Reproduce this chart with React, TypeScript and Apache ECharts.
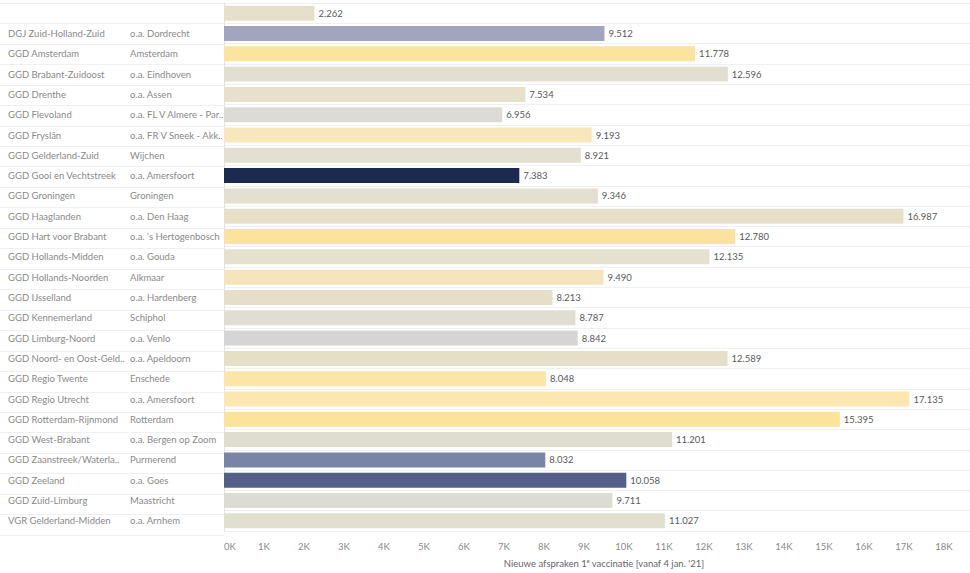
import React, { useEffect, useRef } from "react";
import * as echarts from "echarts";

const regions = [
  "",
  "DGJ Zuid-Holland-Zuid",
  "GGD Amsterdam",
  "GGD Brabant-Zuidoost",
  "GGD Drenthe",
  "GGD Flevoland",
  "GGD Fryslân",
  "GGD Gelderland-Zuid",
  "GGD Gooi en Vechtstreek",
  "GGD Groningen",
  "GGD Haaglanden",
  "GGD Hart voor Brabant",
  "GGD Hollands-Midden",
  "GGD Hollands-Noorden",
  "GGD IJsselland",
  "GGD Kennemerland",
  "GGD Limburg-Noord",
  "GGD Noord- en Oost-Geld..",
  "GGD Regio Twente",
  "GGD Regio Utrecht",
  "GGD Rotterdam-Rijnmond",
  "GGD West-Brabant",
  "GGD Zaanstreek/Waterla..",
  "GGD Zeeland",
  "GGD Zuid-Limburg",
  "VGR Gelderland-Midden",
];

const places = [
  "",
  "o.a. Dordrecht",
  "Amsterdam",
  "o.a. Eindhoven",
  "o.a. Assen",
  "o.a. FL V Almere - Par..",
  "o.a. FR V Sneek - Akk..",
  "Wijchen",
  "o.a. Amersfoort",
  "Groningen",
  "o.a. Den Haag",
  "o.a. 's Hertogenbosch",
  "o.a. Gouda",
  "Alkmaar",
  "o.a. Hardenberg",
  "Schiphol",
  "o.a. Venlo",
  "o.a. Apeldoorn",
  "Enschede",
  "o.a. Amersfoort",
  "Rotterdam",
  "o.a. Bergen op Zoom",
  "Purmerend",
  "o.a. Goes",
  "Maastricht",
  "o.a. Arnhem",
];

const values = [
  2262, 9512, 11778, 12596, 7534, 6956, 9193, 8921, 7383, 9346, 16987, 12780,
  12135, 9490, 8213, 8787, 8842, 12589, 8048, 17135, 15395, 11201, 8032, 10058,
  9711, 11027,
];

const barColors = [
  "#e6e0cb", "#a1a5bd", "#fbe3a0", "#e2dfd2", "#e7e1cb", "#dcdbd6", "#f7e7bb",
  "#e3e0d2", "#1c2a50", "#e4e0d1", "#e7dfc7", "#fbe39e", "#e5e1cf", "#f5e5bc",
  "#e5dfca", "#e0ded3", "#d5d5d5", "#e6dfc8", "#fbe6a7", "#fbe7af", "#fbe39a",
  "#dfddd0", "#7a84a7", "#55608a", "#dcdbd4", "#e0dfd0",
];

const axisTitle = "Nieuwe afspraken 1ᵉ vaccinatie [vanaf 4 jan. '21]";

const fmt = (v: number) =>
  String(Math.round(v)).replace(/\B(?=(\d{3})+(?!\d))/g, ".");

export default function App() {
  const ref = useRef<HTMLDivElement>(null);
  useEffect(() => {
    if (!ref.current) return;
    const chart = echarts.init(ref.current, null, { renderer: "svg" });
    const font = "Lato, 'Noto Sans', sans-serif";
    const top = 3;
    const height = 532;
    const splitColor = "#f0f0f0";
    const labelColor = "#8a8a8a";
    chart.setOption({
      animation: false,
      backgroundColor: "#ffffff",
      textStyle: { fontFamily: font },
      grid: [
        { left: 224, right: 0, top, height, containLabel: false },
        { left: 0, width: 224, top, height, containLabel: false },
      ],
      xAxis: [
        {
          type: "value",
          gridIndex: 0,
          min: 0,
          max: 18650,
          interval: 1000,
          axisLine: { show: false },
          axisTick: { show: false },
          splitLine: { show: false },
          axisLabel: {
            color: labelColor,
            fontSize: 9.5,
            fontFamily: font,
            margin: 10,
            alignMinLabel: "left",
            showMaxLabel: false,
            formatter: (v: number) => (v % 1000 === 0 ? v / 1000 + "K" : ""),
          },
          name: axisTitle,
          nameLocation: "middle",
          nameGap: 27,
          nameTextStyle: { color: "#666", fontSize: 9.5, fontFamily: font, padding: [0, 0, 0, 14] },
        },
        { type: "value", gridIndex: 1, show: false, min: 0, max: 1 },
      ],
      yAxis: [
        {
          type: "category",
          gridIndex: 0,
          inverse: true,
          data: regions,
          axisLine: { show: true, lineStyle: { color: "#e4e4e4" } },
          axisTick: { show: false },
          splitLine: { show: true, lineStyle: { color: splitColor, width: 1 } },
          axisLabel: {
            align: "left",
            margin: 216,
            fontFamily: font,
            formatter: (_v: string, i: number) =>
              "{a|" + regions[i] + "}{b|" + places[i] + "}",
            rich: {
              a: { width: 122, color: labelColor, fontSize: 9.5, fontFamily: font },
              b: { color: labelColor, fontSize: 9.5, fontFamily: font },
            },
          },
        },
        {
          type: "category",
          gridIndex: 1,
          inverse: true,
          data: regions,
          axisLine: { show: false },
          axisTick: { show: false },
          axisLabel: { show: false },
          splitLine: { show: true, lineStyle: { color: splitColor, width: 1 } },
        },
      ],
      series: [
        {
          type: "bar",
          xAxisIndex: 0,
          yAxisIndex: 0,
          barWidth: 15,
          data: values.map((v, i) => ({ value: v, itemStyle: { color: barColors[i] } })),
          label: {
            show: true,
            position: "right",
            distance: 4,
            color: "#5a5a5a",
            fontSize: 9.5,
            fontFamily: font,
            formatter: (p: any) => fmt(p.value),
          },
        },
        {
          type: "bar",
          xAxisIndex: 1,
          yAxisIndex: 1,
          data: regions.map(() => 0),
          silent: true,
        },
      ],
    });
    return () => chart.dispose();
  }, []);
  return (
    <div
      ref={ref}
      style={{ position: "fixed", left: 0, top: 0, width: 970, height: 573 }}
    />
  );
}
